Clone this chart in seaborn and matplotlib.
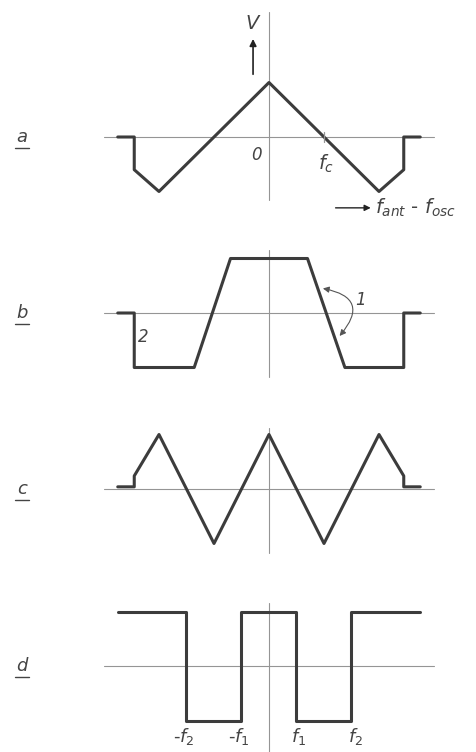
import seaborn as sns
import matplotlib.pyplot as plt

# waveforms, x in units of f_c, y normalised to peak
a_x = [-2.75, -2.45, -2.45, -2.0, 0.0, 2.0, 2.45, 2.45, 2.75]
a_y = [0.0, 0.0, -0.6, -1.0, 1.0, -1.0, -0.6, 0.0, 0.0]

b_x = [-2.75, -2.45, -2.45, -1.36, -0.7, 0.7, 1.38, 2.45, 2.45, 2.75]
b_y = [0.0, 0.0, -1.0, -1.0, 1.0, 1.0, -1.0, -1.0, 0.0, 0.0]

c_x = [-2.75, -2.45, -2.45, -2.0, -1.0, 0.0, 1.0, 2.0, 2.45, 2.45, 2.75]
c_y = [0.04, 0.04, 0.24, 1.0, -1.0, 1.0, -1.0, 1.0, 0.24, 0.04, 0.04]

d_x = [-2.75, -1.5, -1.5, -0.5, -0.5, 0.5, 0.5, 1.5, 1.5, 2.75]
d_y = [1.0, 1.0, -1.0, -1.0, 1.0, 1.0, -1.0, -1.0, 1.0, 1.0]

panel_names = ['a', 'b', 'c', 'd']
d_tick_x = [-1.55, -0.55, 0.53, 1.57]
d_tick_labels = [r'-$f_2$', r'-$f_1$', r'$f_1$', r'$f_2$']

sns.set_theme(style='white')
plt.rcParams['font.family'] = ['DejaVu Sans']
plt.rcParams['mathtext.fontset'] = 'dejavusans'

W, H = 477, 752
PX_X, PX_Y, X0 = 55.0, 54.5, 269.0
line_c = '#3c3c3c'
axis_c = '#959595'
text_c = '#444444'

fig = plt.figure(figsize=(W / 100, H / 100), dpi=100)

# baseline (px from top), ylim, extent of vertical axis line
layout = [
    (137, (-1.5, 2.45), (-1.16, 2.29)),
    (313, (-1.3, 1.3), (-1.17, 1.16)),
    (489, (-1.3, 1.3), (-1.17, 1.12)),
    (666, (-1.6, 1.3), (-1.6, 1.16)),
]
curves = [(a_x, a_y), (b_x, b_y), (c_x, c_y), (d_x, d_y)]

axes = []
for (y0, (lo, hi), (vlo, vhi)), (cx, cy), name in zip(layout, curves, panel_names):
    xl = (-3.1, 3.1)
    left = (X0 + xl[0] * PX_X) / W
    width = (xl[1] - xl[0]) * PX_X / W
    bottom = 1 - (y0 - lo * PX_Y) / H
    height = (hi - lo) * PX_Y / H
    ax = fig.add_axes([left, bottom, width, height])
    ax.set_xlim(*xl)
    ax.set_ylim(lo, hi)
    ax.axis('off')
    # axes cross
    ax.plot([-3.0, 3.0], [0, 0], color=axis_c, lw=0.8)
    ax.plot([0, 0], [vlo, vhi], color=axis_c, lw=0.8, clip_on=False)
    sns.lineplot(x=cx, y=cy, sort=False, estimator=None, color=line_c,
                 linewidth=2.2, ax=ax)
    # underlined panel letter
    ax.text(-4.49, -0.1, name, fontsize=13, style='italic', color=text_c,
            ha='center', va='baseline', clip_on=False)
    ax.plot([-4.62, -4.36], [-0.2, -0.2], color=text_c, lw=1.0, clip_on=False)
    axes.append(ax)

ax_a, ax_b, ax_c, ax_d = axes

# panel a annotations
ax_a.text(-0.31, 2.09, 'V', fontsize=14, style='italic', color=text_c,
          ha='center', va='center')
ax_a.annotate('', xy=(-0.29, 1.85), xytext=(-0.29, 1.1),
              arrowprops=dict(arrowstyle='-|>', color='#222222', lw=1.2,
                              mutation_scale=10))
ax_a.text(-0.22, -0.33, '0', fontsize=12, style='italic', color=text_c,
          ha='center', va='center')
ax_a.plot([1.0, 1.0], [-0.1, 0.1], color=axis_c, lw=0.9)
ax_a.text(1.04, -0.5, r'$f_c$', fontsize=14, color=text_c,
          ha='center', va='center')
ax_a.annotate('', xy=(1.9, -1.3), xytext=(1.16, -1.3),
              arrowprops=dict(arrowstyle='-|>', color='#222222', lw=1.0,
                              mutation_scale=9), annotation_clip=False)
ax_a.text(1.93, -1.3, r'$f_{ant}$ - $f_{osc}$', fontsize=14, color=text_c,
          ha='left', va='center', clip_on=False)

# panel b annotations
ax_b.annotate('', xy=(0.93, 0.46), xytext=(1.25, -0.46),
              arrowprops=dict(arrowstyle='<|-|>', color='#555555', lw=0.8,
                              mutation_scale=9,
                              connectionstyle='arc3,rad=0.9'))
ax_b.text(1.66, 0.24, '1', fontsize=12, style='italic', color=text_c,
          ha='center', va='center')
ax_b.text(-2.29, -0.44, '2', fontsize=12, style='italic', color=text_c,
          ha='center', va='center')

# panel d frequency labels
for x, lab in zip(d_tick_x, d_tick_labels):
    ax_d.text(x, -1.3, lab, fontsize=13, color=text_c,
              ha='center', va='center', clip_on=False)

fig.savefig('out.png', dpi=100, facecolor='white')
